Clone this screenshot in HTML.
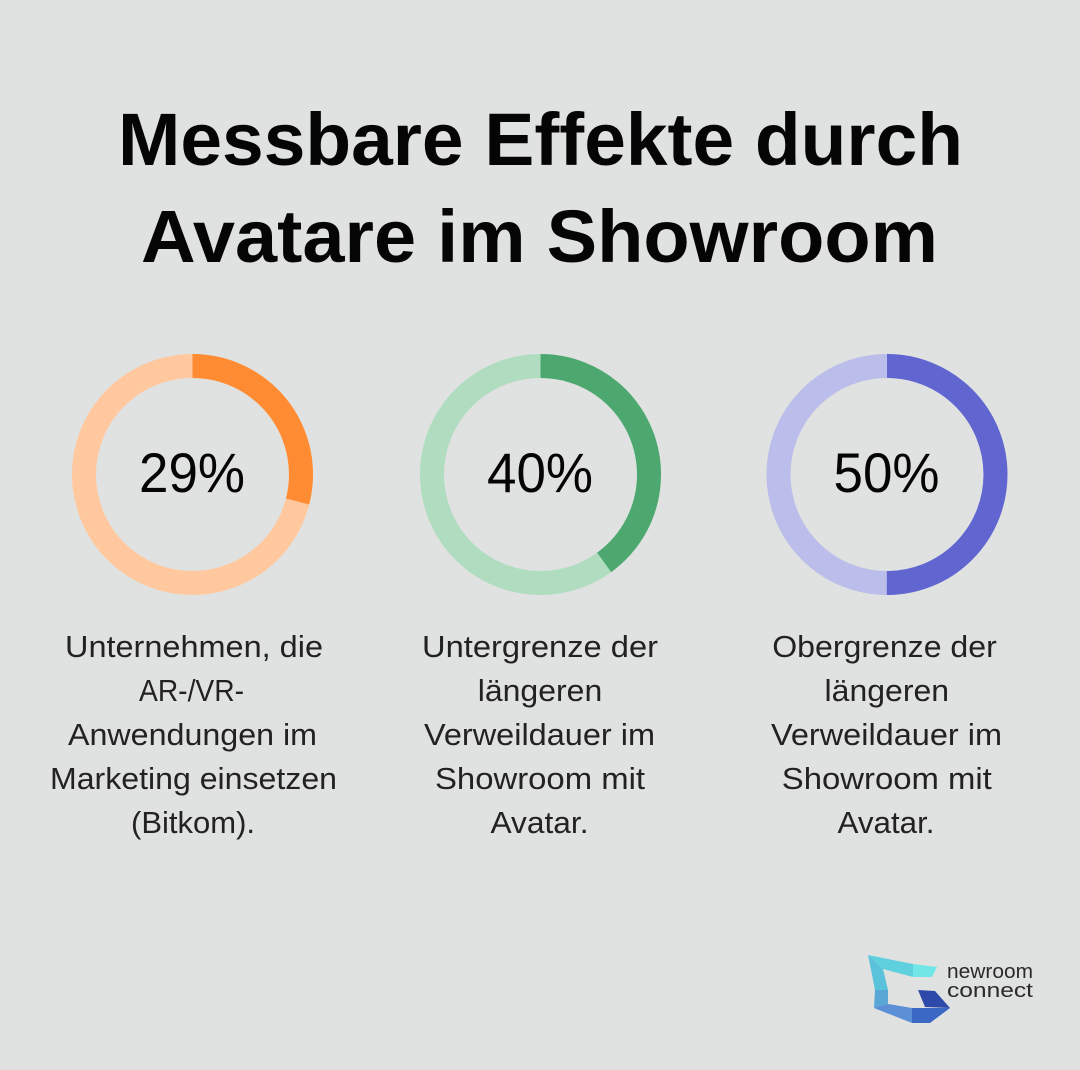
<!DOCTYPE html>
<html>
<head>
<meta charset="utf-8">
<style>
  html, body { margin: 0; padding: 0; background: #e0e2e1; }
  svg { display: block; }
  .t { font-family: "Liberation Sans", "DejaVu Sans", sans-serif; }
</style>
</head>
<body>
<svg width="1080" height="1070" viewBox="0 0 1080 1070" xmlns="http://www.w3.org/2000/svg">
  <rect x="0" y="0" width="1080" height="1070" fill="#e0e2e1"/>

  <!-- Title -->
  <text class="t" x="540.5" y="165" text-anchor="middle" font-size="74" font-weight="bold" fill="#050505" textLength="845" lengthAdjust="spacingAndGlyphs">Messbare Effekte durch</text>
  <text class="t" x="539.5" y="262" text-anchor="middle" font-size="74" font-weight="bold" fill="#050505" textLength="797" lengthAdjust="spacingAndGlyphs">Avatare im Showroom</text>

  <!-- Donut 1: 29% -->
  <g transform="translate(192.5,474.5)">
    <circle r="108.5" fill="none" stroke="#ffc89f" stroke-width="24"/>
    <circle r="108.5" fill="none" stroke="#ff8c33" stroke-width="24" stroke-dasharray="197.7 1000" transform="rotate(-90)"/>
  </g>
  <text class="t" x="192" y="492" text-anchor="middle" font-size="56" fill="#050505" textLength="106" lengthAdjust="spacingAndGlyphs">29%</text>

  <!-- Donut 2: 40% -->
  <g transform="translate(540.5,474.5)">
    <circle r="108.5" fill="none" stroke="#b0dcc0" stroke-width="24"/>
    <circle r="108.5" fill="none" stroke="#4da86f" stroke-width="24" stroke-dasharray="272.7 1000" transform="rotate(-90)"/>
  </g>
  <text class="t" x="540" y="492" text-anchor="middle" font-size="56" fill="#050505" textLength="106" lengthAdjust="spacingAndGlyphs">40%</text>

  <!-- Donut 3: 50% -->
  <g transform="translate(887,474.5)">
    <circle r="108.5" fill="none" stroke="#bbbdea" stroke-width="24"/>
    <circle r="108.5" fill="none" stroke="#6065cf" stroke-width="24" stroke-dasharray="340.9 1000" transform="rotate(-90)"/>
  </g>
  <text class="t" x="886.5" y="492" text-anchor="middle" font-size="56" fill="#050505" textLength="106" lengthAdjust="spacingAndGlyphs">50%</text>

  <!-- Descriptions -->
  <g class="t" font-size="31" fill="#222222" text-anchor="middle">
    <text x="194" y="657" textLength="258" lengthAdjust="spacingAndGlyphs">Unternehmen, die</text>
    <text x="191.5" y="701" textLength="105" lengthAdjust="spacingAndGlyphs">AR-/VR-</text>
    <text x="192.5" y="745" textLength="249" lengthAdjust="spacingAndGlyphs">Anwendungen im</text>
    <text x="193.5" y="789" textLength="287" lengthAdjust="spacingAndGlyphs">Marketing einsetzen</text>
    <text x="193" y="833" textLength="124" lengthAdjust="spacingAndGlyphs">(Bitkom).</text>

    <text x="540" y="657" textLength="236" lengthAdjust="spacingAndGlyphs">Untergrenze der</text>
    <text x="540" y="701" textLength="124.5" lengthAdjust="spacingAndGlyphs">längeren</text>
    <text x="539.5" y="745" textLength="231" lengthAdjust="spacingAndGlyphs">Verweildauer im</text>
    <text x="540" y="789" textLength="210" lengthAdjust="spacingAndGlyphs">Showroom mit</text>
    <text x="539.5" y="833" textLength="98" lengthAdjust="spacingAndGlyphs">Avatar.</text>

    <text x="884.5" y="657" textLength="224.5" lengthAdjust="spacingAndGlyphs">Obergrenze der</text>
    <text x="886.8" y="701" textLength="124.5" lengthAdjust="spacingAndGlyphs">längeren</text>
    <text x="886.5" y="745" textLength="231" lengthAdjust="spacingAndGlyphs">Verweildauer im</text>
    <text x="886.8" y="789" textLength="210" lengthAdjust="spacingAndGlyphs">Showroom mit</text>
    <text x="886" y="833" textLength="97" lengthAdjust="spacingAndGlyphs">Avatar.</text>
  </g>

  <!-- Logo -->
  <g>
    <polygon points="868,955 913,964 913,977 883,969" fill="#5fd0de"/>
    <polygon points="913,964 937,967 932,977 913,977" fill="#70e6e6"/>
    <polygon points="868,955 883,969 888,990 875,990" fill="#5ac2da"/>
    <polygon points="875,990 888,990 888,1004 874,1008" fill="#5aa6d4"/>
    <polygon points="874,1008 888,1004 912,1008 912,1023" fill="#5b8fd6"/>
    <polygon points="912,1008 950,1008 930,1023 912,1023" fill="#3a68c4"/>
    <polygon points="918,990 935,991 950,1008 925,1007" fill="#2e4aa8"/>
  </g>
  <text class="t" x="947" y="978" font-size="20" fill="#2a2a2a" textLength="86" lengthAdjust="spacingAndGlyphs">newroom</text>
  <text class="t" x="947" y="997" font-size="20" fill="#2a2a2a" textLength="86" lengthAdjust="spacingAndGlyphs">connect</text>
</svg>
</body>
</html>
